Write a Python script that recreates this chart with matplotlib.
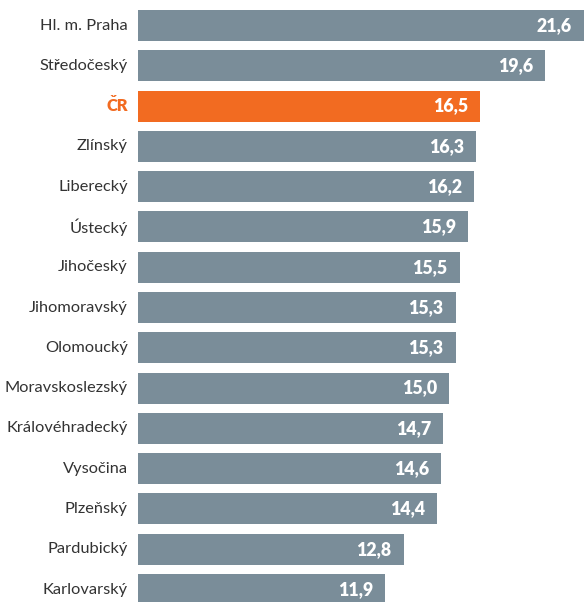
import matplotlib.pyplot as plt

regions = ['Hl. m. Praha', 'Středočeský', 'ČR', 'Zlínský', 'Liberecký', 'Ústecký',
           'Jihočeský', 'Jihomoravský', 'Olomoucký', 'Moravskoslezský',
           'Královéhradecký', 'Vysočina', 'Plzeňský', 'Pardubický', 'Karlovarský']
values = [21.6, 19.6, 16.5, 16.3, 16.2, 15.9, 15.5, 15.3, 15.3, 15.0, 14.7, 14.6, 14.4, 12.8, 11.9]
highlight = 'ČR'

gray = '#7a8d99'
orange = '#f26b21'

plt.rcParams['font.family'] = ['Lato', 'DejaVu Sans']

fig = plt.figure(figsize=(5.84, 6.02), dpi=100)
ax = fig.add_axes([138 / 584, 0, 1 - 138 / 584, 1])

colors = [orange if r == highlight else gray for r in regions]
y = list(range(len(regions)))
ax.barh(y, values, height=0.77, color=colors)

ax.set_xlim(0, 21.49)
ax.set_ylim(14.31, -0.633)
ax.axis('off')

for i, (r, v) in enumerate(zip(regions, values)):
    is_hl = r == highlight
    ax.annotate(r, xy=(0, i), xytext=(-10, 0), textcoords='offset pixels',
                ha='right', va='center', fontsize=11.8,
                color=orange if is_hl else '#333333',
                fontweight='heavy' if is_hl else 'normal')
    ax.annotate(f'{v:.1f}'.replace('.', ','), xy=(min(v, 21.49), i), xytext=(-12, 0),
                textcoords='offset pixels', ha='right', va='center',
                fontsize=12.8, color='white', fontweight='heavy', annotation_clip=False)

fig.savefig('out.png', dpi=100)
